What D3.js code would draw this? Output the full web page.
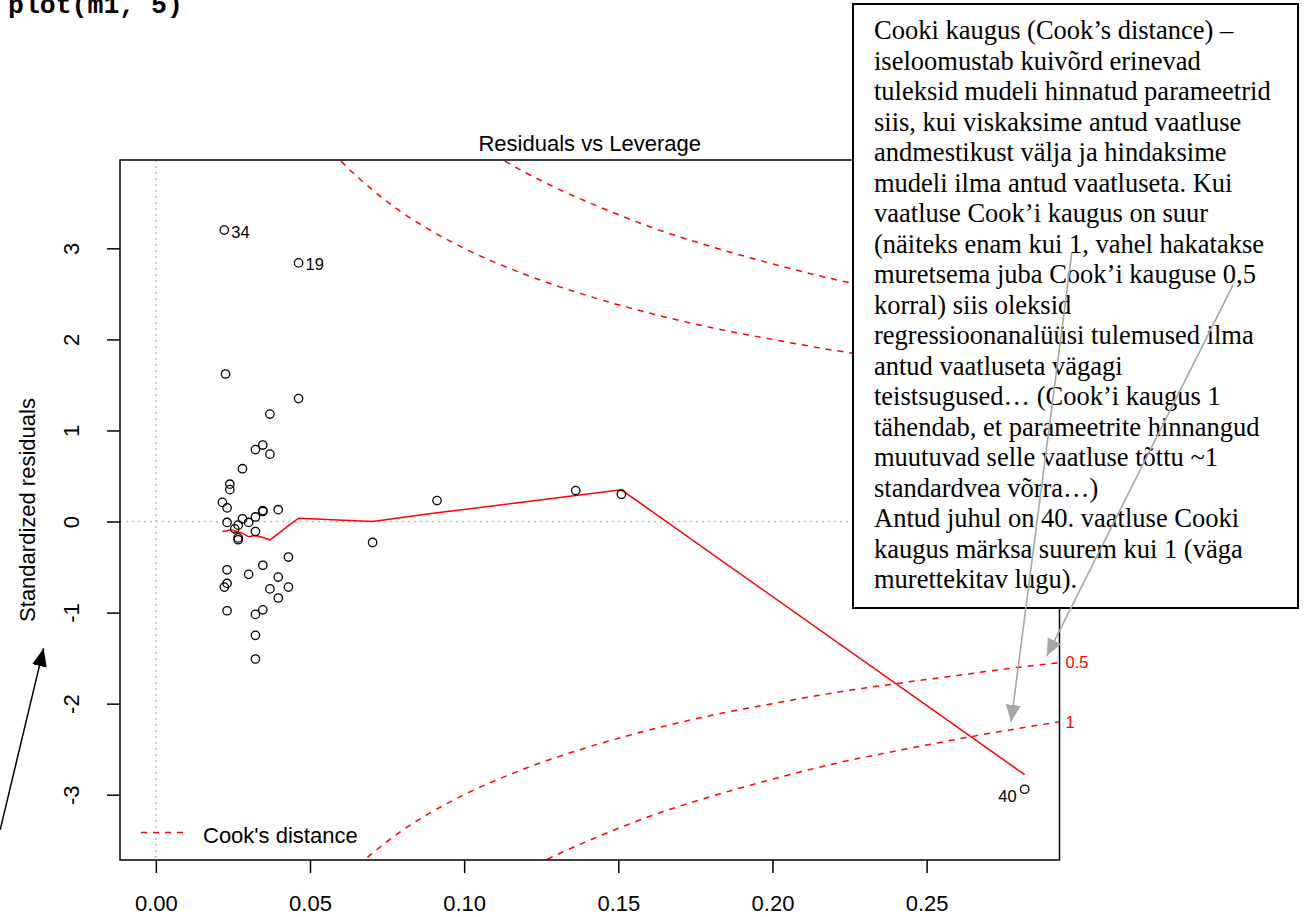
<!DOCTYPE html>
<html><head><meta charset="utf-8">
<script src="https://cdn.jsdelivr.net/npm/d3@7"></script>
<style>body{margin:0;background:#fff} svg{display:block}</style>
</head><body>
<script>
// ---- data ----
const leverage = [0.0222,0.0463,0.0226,0.0463,0.0370,0.0323,0.0347,0.0370,0.0281,0.0240,
  0.0240,0.0216,0.0231,0.0397,0.0347,0.0347,0.0323,0.0281,0.0231,0.0301,
  0.0267,0.0256,0.0323,0.0267,0.0267,0.0703,0.0912,0.0430,0.0347,0.0231,
  0.0301,0.0397,0.0231,0.0222,0.0370,0.0430,0.0397,0.0231,0.0347,0.0323,
  0.0323,0.0323,0.1362,0.1510,0.2818];
const stdResiduals = [3.20,2.84,1.62,1.35,1.18,0.79,0.84,0.74,0.58,0.41,
  0.35,0.21,0.15,0.13,0.12,0.11,0.05,0.03,-0.01,-0.01,
  -0.04,-0.08,-0.11,-0.18,-0.20,-0.23,0.23,-0.39,-0.48,-0.53,
  -0.58,-0.61,-0.68,-0.72,-0.74,-0.72,-0.84,-0.98,-0.97,-1.02,
  -1.25,-1.51,0.34,0.30,-2.94];
const labelNames = ["34","19","40"];
const labelIndex = [0,1,44];

const smoothLeverage = [0.0216,0.0222,0.0226,0.0231,0.0240,0.0256,0.0267,0.0281,0.0301,0.0323,
  0.0347,0.0370,0.0397,0.0430,0.0463,0.0703,0.0912,0.1362,0.1510,0.2818];
const smoothResidual = [-0.110,-0.107,-0.105,-0.105,-0.091,-0.102,-0.116,-0.127,-0.168,-0.154,
  -0.176,-0.201,-0.132,-0.046,0.037,0.000,0.095,0.285,0.348,-2.78];

const cookLevels = ["0.5","1"];
const cookLeverage05 = [0.05,0.06,0.07,0.08,0.09,0.10,0.12,0.14,0.16,0.18,0.20,0.22,0.24,0.26,0.28,0.2931];
const cookSize05     = [4.36,3.96,3.65,3.39,3.18,3.00,2.71,2.48,2.29,2.13,2.00,1.88,1.78,1.69,1.60,1.55];
const cookLeverage1  = [0.10,0.11,0.12,0.13,0.14,0.16,0.18,0.20,0.22,0.24,0.26,0.28,0.2931];
const cookSize1      = [4.24,4.02,3.83,3.66,3.51,3.24,3.02,2.83,2.66,2.52,2.39,2.27,2.20];

const xTicks = [0,0.05,0.10,0.15,0.20,0.25];
const xTickLabels = ["0.00","0.05","0.10","0.15","0.20","0.25"];
const yTicks = [-3,-2,-1,0,1,2,3];
const yTickLabels = ["-3","-2","-1","0","1","2","3"];

const titleText = "Residuals vs Leverage";
const xLabelText = "";
const yLabelText = "Standardized residuals";
const legendText = "Cook's distance";
const codeText = "plot(m1, 5)";

const noteLines = [
  "Cooki kaugus (Cook\u2019s distance) \u2013",
  "iseloomustab kuiv\u00f5rd erinevad",
  "tuleksid mudeli hinnatud parameetrid",
  "siis, kui viskaksime antud vaatluse",
  "andmestikust v\u00e4lja ja hindaksime",
  "mudeli ilma antud vaatluseta. Kui",
  "vaatluse Cook\u2019i kaugus on suur",
  "(n\u00e4iteks enam kui 1, vahel hakatakse",
  "muretsema juba Cook\u2019i kauguse 0,5",
  "korral) siis oleksid",
  "regressioonanal\u00fc\u00fcsi tulemused ilma",
  "antud vaatluseta v\u00e4gagi",
  "teistsugused\u2026 (Cook\u2019i kaugus 1",
  "t\u00e4hendab, et parameetrite hinnangud",
  "muutuvad selle vaatluse t\u00f5ttu ~1",
  "standardvea v\u00f5rra\u2026)",
  "Antud juhul on 40. vaatluse Cooki",
  "kaugus m\u00e4rksa suurem kui 1 (v\u00e4ga",
  "murettekitav lugu)."
];

// annotation arrows (data coordinates: from -> to)
const greyArrowFromX = [0.2971, 0.3494];
const greyArrowFromY = [2.951, 2.598];
const greyArrowToX   = [0.2774, 0.2890];
const greyArrowToY   = [-2.200, -1.475];
const blackArrowFrom = [-0.0505, -3.386];
const blackArrowTo   = [-0.0364, -1.393];

// ---- drawing ----
const W = 1308, H = 917;
const L = 120, R = 1059.5, T = 160, B = 860;
const sans = "'Liberation Sans', Arial, Helvetica, sans-serif";

const svg = d3.select("body").append("svg").attr("width", W).attr("height", H)
  .style("background", "#fff");

const x = d3.scaleLinear().domain([-0.0113, 0.2931]).range([L + 1, R]);
const y = d3.scaleLinear().domain([-3.717, 3.97]).range([B, T]);

const defs = svg.append("defs");
defs.append("clipPath").attr("id", "plotclip").append("rect")
  .attr("x", L).attr("y", T).attr("width", R - L).attr("height", B - T);
defs.append("marker").attr("id", "greyhead").attr("markerUnits", "userSpaceOnUse")
  .attr("markerWidth", 18).attr("markerHeight", 16).attr("refX", 17).attr("refY", 7.5)
  .attr("orient", "auto").append("path").attr("d", "M0,0 L17,7.5 L0,15 Z").attr("fill", "#a6a6a6");
defs.append("marker").attr("id", "blackhead").attr("markerUnits", "userSpaceOnUse")
  .attr("markerWidth", 19).attr("markerHeight", 16).attr("refX", 18).attr("refY", 7.5)
  .attr("orient", "auto").append("path").attr("d", "M0,0 L18,7.5 L0,15 Z").attr("fill", "#000");

// code line at top
svg.append("text").attr("x", 8).attr("y", 13)
  .attr("font-family", "'Liberation Mono', 'Courier New', monospace").attr("font-weight", "bold")
  .attr("font-size", 26.5).attr("fill", "#000").text(codeText);

// reference dotted lines
const plot = svg.append("g").attr("clip-path", "url(#plotclip)");
plot.append("line").attr("x1", L).attr("x2", R).attr("y1", y(0)).attr("y2", y(0))
  .attr("stroke", "#bdbdbd").attr("stroke-width", 1.5).attr("stroke-dasharray", "2,4");
plot.append("line").attr("x1", x(0)).attr("x2", x(0)).attr("y1", T).attr("y2", B)
  .attr("stroke", "#bdbdbd").attr("stroke-width", 1.5).attr("stroke-dasharray", "2,4");

// Cook's distance contours (upper and lower)
const cookSets = [
  {lev: cookLeverage05, size: cookSize05},
  {lev: cookLeverage1, size: cookSize1}
];
const cookLine = d3.line().x(d => x(d[0])).y(d => y(d[1])).curve(d3.curveMonotoneX);
cookSets.forEach(s => {
  [1, -1].forEach(sign => {
    const pts = s.lev.map((h, i) => [h, sign * s.size[i]]);
    plot.append("path").attr("d", cookLine(pts)).attr("fill", "none")
      .attr("stroke", "#ff0000").attr("stroke-width", 1.5).attr("stroke-dasharray", "6,6");
  });
});

// points
const pts = leverage.map((h, i) => ({h, r: stdResiduals[i]}));
svg.append("g").selectAll("circle").data(pts).join("circle")
  .attr("cx", d => x(d.h)).attr("cy", d => y(d.r)).attr("r", 4.2)
  .attr("fill", "none").attr("stroke", "#000").attr("stroke-width", 1.3);

// smoother
const sm = smoothLeverage.map((h, i) => [h, smoothResidual[i]]);
plot.append("path").attr("d", d3.line().x(d => x(d[0])).y(d => y(d[1]))(sm))
  .attr("fill", "none").attr("stroke", "#ff0000").attr("stroke-width", 1.5);

// point labels
labelNames.forEach((nm, k) => {
  const d = pts[labelIndex[k]];
  const right = d.h < 0.15;
  svg.append("text").attr("x", x(d.h) + (right ? 7 : -8)).attr("y", y(d.r) + (right ? 7.5 : 13))
    .attr("text-anchor", right ? "start" : "end")
    .attr("font-family", sans).attr("font-size", 16.5).attr("fill", "#000").text(nm);
});

// axes
const xAxis = d3.axisBottom(x).tickValues(xTicks).tickFormat((d, i) => xTickLabels[i])
  .tickSize(13).tickSizeOuter(0).tickPadding(22);
const gx = svg.append("g").attr("transform", `translate(0,${B})`).call(xAxis);
gx.select(".domain").remove();
gx.selectAll("line").attr("stroke", "#000").attr("stroke-width", 1.5);
gx.selectAll("text").attr("font-family", sans).attr("font-size", 22).attr("fill", "#000");

const yAxis = d3.axisLeft(y).tickValues(yTicks).tickFormat((d, i) => yTickLabels[i])
  .tickSize(13).tickSizeOuter(0);
const gy = svg.append("g").attr("transform", `translate(${L},0)`).call(yAxis);
gy.select(".domain").remove();
gy.selectAll("line").attr("stroke", "#000").attr("stroke-width", 1.5);
gy.selectAll("text").attr("font-family", sans).attr("font-size", 22).attr("fill", "#000")
  .attr("x", 0).attr("dy", null).attr("text-anchor", "middle")
  .attr("transform", "translate(-41,0) rotate(-90)");

// box
svg.append("rect").attr("x", L).attr("y", T).attr("width", R - L).attr("height", B - T)
  .attr("fill", "none").attr("stroke", "#000").attr("stroke-width", 1.5);

// title and y label
svg.append("text").attr("x", (L + R) / 2).attr("y", 151).attr("text-anchor", "middle")
  .attr("font-family", sans).attr("font-size", 22).attr("fill", "#000").text(titleText);
svg.append("text").attr("transform", `translate(35,${(T + B) / 2}) rotate(-90)`)
  .attr("text-anchor", "middle").attr("font-family", sans).attr("font-size", 22)
  .attr("fill", "#000").text(yLabelText);

// Cook level labels at right margin
[cookSize05, cookSize1].forEach((s, k) => {
  svg.append("text").attr("x", R + 6).attr("y", y(-s[s.length - 1])).attr("dy", "0.35em")
    .attr("font-family", sans).attr("font-size", 16.5).attr("fill", "#ff0000").text(cookLevels[k]);
});

// legend
svg.append("line").attr("x1", 141).attr("x2", 183).attr("y1", 832.5).attr("y2", 832.5)
  .attr("stroke", "#ff0000").attr("stroke-width", 1.5).attr("stroke-dasharray", "6,6");
svg.append("text").attr("x", 203).attr("y", 843).attr("font-family", sans).attr("font-size", 22)
  .attr("fill", "#000").text(legendText);

// annotation box
svg.append("rect").attr("x", 853).attr("y", 4).attr("width", 445).attr("height", 604)
  .attr("fill", "#fff").attr("stroke", "#000").attr("stroke-width", 2);
svg.append("g").selectAll("text").data(noteLines).join("text")
  .attr("x", 874).attr("y", (d, i) => 39.4 + i * 30.48)
  .attr("font-family", "'Liberation Serif', 'Times New Roman', serif").attr("font-size", 26.5)
  .attr("fill", "#000").text(d => d);

// grey arrows
greyArrowFromX.forEach((fx, i) => {
  svg.append("line").attr("x1", x(fx)).attr("y1", y(greyArrowFromY[i]))
    .attr("x2", x(greyArrowToX[i])).attr("y2", y(greyArrowToY[i]))
    .attr("stroke", "#a6a6a6").attr("stroke-width", 1.6).attr("marker-end", "url(#greyhead)");
});
// black arrow
svg.append("line").attr("x1", x(blackArrowFrom[0])).attr("y1", y(blackArrowFrom[1]))
  .attr("x2", x(blackArrowTo[0])).attr("y2", y(blackArrowTo[1]))
  .attr("stroke", "#000").attr("stroke-width", 1.5).attr("marker-end", "url(#blackhead)");
</script>
</body></html>
